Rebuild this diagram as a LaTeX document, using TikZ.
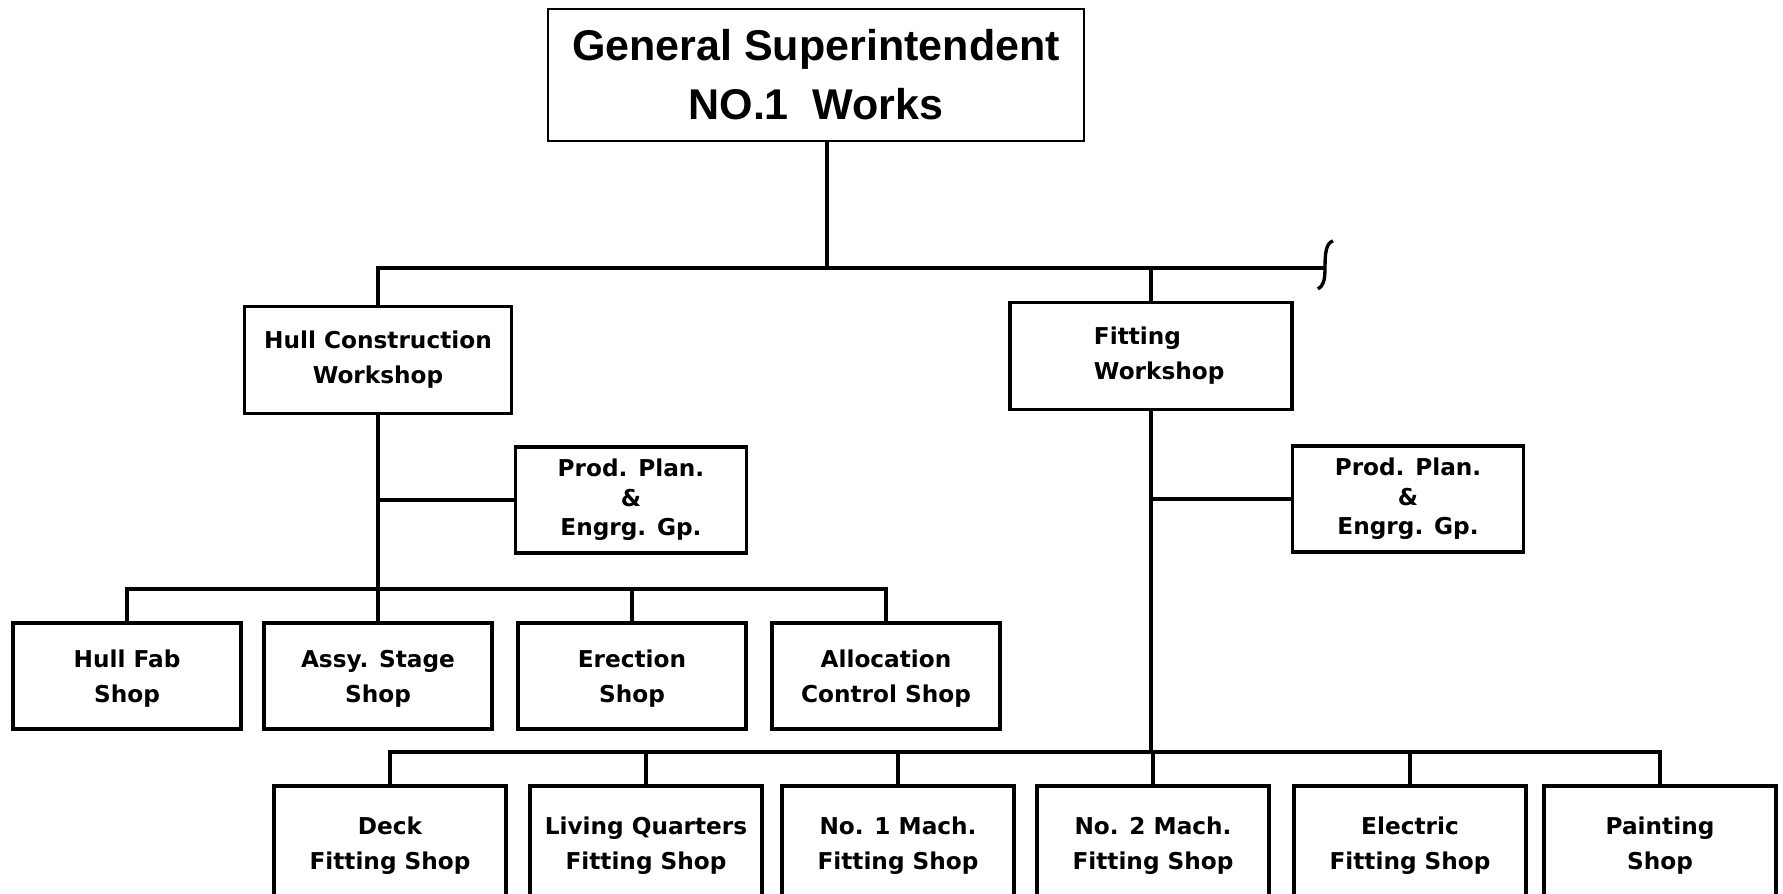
\documentclass[tikz,border=0pt]{standalone}
\usepackage{fontspec}
\newfontfamily\titlefont{Liberation Sans}
\newfontfamily\shopfont{DejaVu Sans}
\tikzset{orgbox/.style={draw, line width=2.4pt, inner sep=0pt, align=center,
  font=\shopfont\bfseries\fontsize{16.5}{25}\selectfont}}
\tikzset{headbox/.style={orgbox, line width=2pt, minimum width=13.4cm, minimum height=3.3cm,
  font=\titlefont\bfseries\fontsize{30.6}{42}\selectfont}}
\tikzset{wsbox/.style={orgbox, minimum height=2.675cm}}
\tikzset{ppbox/.style={orgbox, minimum width=5.775cm, minimum height=2.65cm,
  font=\shopfont\bfseries\fontsize{16.5}{21}\selectfont}}
\tikzset{shopbox/.style={orgbox, minimum width=5.7cm, minimum height=2.65cm, text depth=0pt}}
\tikzset{fitshop/.style={orgbox, minimum width=5.8cm, minimum height=3cm}}
\tikzset{link/.style={line width=2.4pt}}

\begin{document}
\begin{tikzpicture}[x=0.025cm, y=-0.025cm]
      \clip (0, 0) rectangle (1783, 894);
      \fill [white] (0, 0) rectangle (1783, 894);

      \node [headbox] (gs) at (816, 75) {General Superintendent\\NO.1\ \ Works};

      \node [wsbox, minimum width=6.675cm] (hull) at (378, 360) {Hull Construction\\Workshop};
      \node [wsbox, minimum width=7.05cm, align=left, text width=2.85cm] (fit) at (1151, 356) {Fitting\\Workshop};

      \node [ppbox] (ppa) at (631, 500) {Prod. Plan.\\\&\\Engrg. Gp.};
      \node [ppbox] (ppb) at (1408, 499) {Prod. Plan.\\\&\\Engrg. Gp.};

      \node [shopbox] (fab) at (127, 676) {Hull Fab\\Shop};
      \node [shopbox] (assy) at (378, 676) {Assy. Stage\\Shop};
      \node [shopbox] (erec) at (632, 676) {Erection\\Shop};
      \node [shopbox] (alloc) at (886, 676) {Allocation\\Control Shop};

      \node [fitshop] (deck) at (390, 846) {Deck\\Fitting Shop};
      \node [fitshop] (living) at (646, 846) {Living Quarters\\Fitting Shop};
      \node [fitshop] (macha) at (898, 846) {No. 1 Mach.\\Fitting Shop};
      \node [fitshop] (machb) at (1153, 846) {No. 2 Mach.\\Fitting Shop};
      \node [fitshop] (elec) at (1410, 846) {Electric\\Fitting Shop};
      \node [fitshop] (paint) at (1660, 846) {Painting\\Shop};

      \coordinate (gsbus) at (827, 268);
      \coordinate (busend) at (1325, 268);
      \coordinate (hbus) at (378, 589);
      \coordinate (fbus) at (1151, 752);

      \draw [link] (gsbus |- gs.south) -- (gsbus);
      \draw [link] (hull.north) |- (busend);
      \draw [link] (fit.north) -- (fit.north |- busend);
      \draw [link] (1333, 241) .. controls (1326, 243) and (1325, 253) .. (busend)
        .. controls (1325, 281) and (1323, 286) .. (1318, 289);

      \draw [link] (hull.south) -- (hbus);
      \draw [link] (ppa.west) -- (ppa.west -| hbus);
      \foreach \s in {fab, assy, erec, alloc}
        \draw [link] (\s.north) |- (hbus);

      \draw [link] (fit.south) -- (fbus);
      \draw [link] (ppb.west) -- (ppb.west -| fbus);
      \foreach \s in {deck, living, macha, machb, elec, paint}
        \draw [link] (\s.north) |- (fbus);

    \end{tikzpicture}
\end{document}
